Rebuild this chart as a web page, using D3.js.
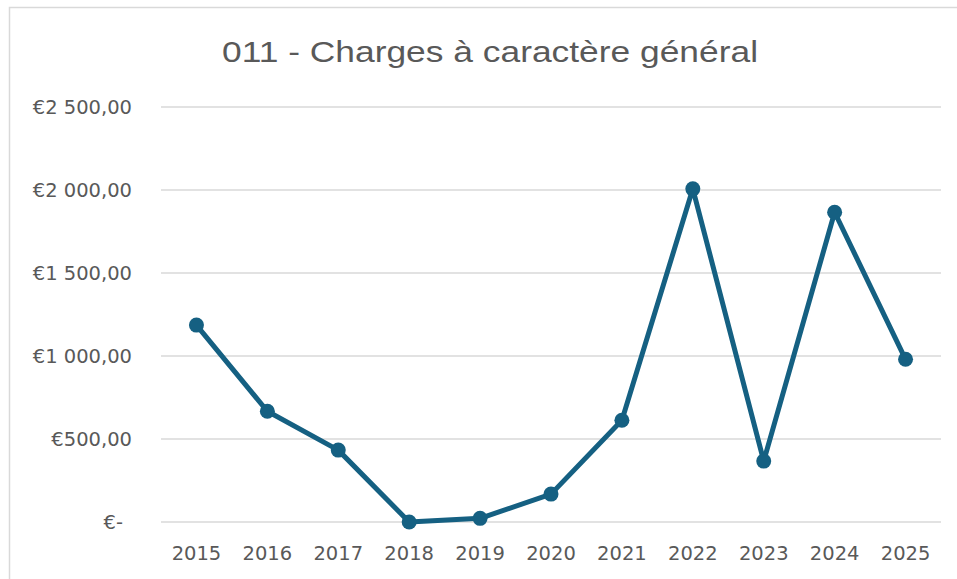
<!DOCTYPE html>
<html>
<head>
<meta charset="utf-8">
<script src="https://cdn.jsdelivr.net/npm/d3@7"></script>
<style>
  body { margin: 0; background: #fff; }
  svg { display: block; }
</style>
</head>
<body>
<div id="chart"></div>
<script>
// size of the page
var chart_width = 957;
var chart_height = 579;

// data
var years = ["2015", "2016", "2017", "2018", "2019", "2020", "2021", "2022", "2023", "2024", "2025"];
var amounts = [1186, 667, 433, 0, 22, 168, 613, 2007, 367, 1866, 980];
var yTicks = [0, 500, 1000, 1500, 2000, 2500];
var yTickLabels = ["€-", "€500,00", "€1 000,00", "€1 500,00", "€2 000,00", "€2 500,00"];
var title = "011 - Charges à caractère général";

var margin = {left: 161, right: 16, top: 107, bottom: 57};

var svg = d3.select("#chart").append("svg")
  .attr("width", chart_width)
  .attr("height", chart_height);

// outer chart frame (excel style)
svg.append("rect")
  .attr("x", 9.5).attr("y", 7.5)
  .attr("width", chart_width + 20).attr("height", chart_height + 20)
  .attr("fill", "#fff")
  .attr("stroke", "#d9d9d9")
  .attr("stroke-width", 1.5);

var x = d3.scaleBand().domain(years)
  .range([margin.left, chart_width - margin.right]);

var y = d3.scaleLinear().domain([0, 2500])
  .range([chart_height - margin.bottom, margin.top]);

// gridlines
svg.append("g").selectAll("line").data(yTicks).enter().append("line")
  .attr("x1", margin.left)
  .attr("x2", chart_width - margin.right)
  .attr("y1", function(d) { return y(d); })
  .attr("y2", function(d) { return y(d); })
  .attr("stroke", "#d9d9d9")
  .attr("stroke-width", 1.5);

// y axis labels
var yAxis = d3.axisLeft(y).tickValues(yTicks)
  .tickSize(0).tickPadding(0)
  .tickFormat(function(d, i) { return yTickLabels[i]; });

var gy = svg.append("g")
  .attr("transform", "translate(132,0)")
  .call(yAxis);
gy.select(".domain").remove();
gy.selectAll("text")
  .attr("font-family", "DejaVu Sans")
  .attr("font-size", 19.5)
  .attr("fill", "#595959");
gy.selectAll(".tick").filter(function(d) { return d === 0; }).select("text")
  .attr("dx", -9);

// x axis labels
var xAxis = d3.axisBottom(x).tickSize(0).tickPadding(0);
var gx = svg.append("g")
  .attr("transform", "translate(0," + (chart_height - margin.bottom) + ")")
  .call(xAxis);
gx.select(".domain").remove();
gx.selectAll("text")
  .attr("dy", null)
  .attr("y", 38)
  .attr("font-family", "DejaVu Sans")
  .attr("font-size", 19.5)
  .attr("fill", "#595959");

// the line
var line = d3.line()
  .x(function(d, i) { return x(years[i]) + x.bandwidth() / 2; })
  .y(function(d) { return y(d); });

svg.append("path")
  .datum(amounts)
  .attr("d", line)
  .attr("fill", "none")
  .attr("stroke", "#156082")
  .attr("stroke-width", 5)
  .attr("stroke-linejoin", "round");

svg.append("g").selectAll("circle").data(amounts).enter().append("circle")
  .attr("cx", function(d, i) { return x(years[i]) + x.bandwidth() / 2; })
  .attr("cy", function(d) { return y(d); })
  .attr("r", 7.5)
  .attr("fill", "#156082");

// title
svg.append("text")
  .attr("x", 490)
  .attr("y", 62)
  .attr("text-anchor", "middle")
  .attr("font-family", "Liberation Sans")
  .attr("font-size", 30)
  .attr("textLength", 536)
  .attr("lengthAdjust", "spacingAndGlyphs")
  .attr("fill", "#595959")
  .text(title);
</script>
</body>
</html>
